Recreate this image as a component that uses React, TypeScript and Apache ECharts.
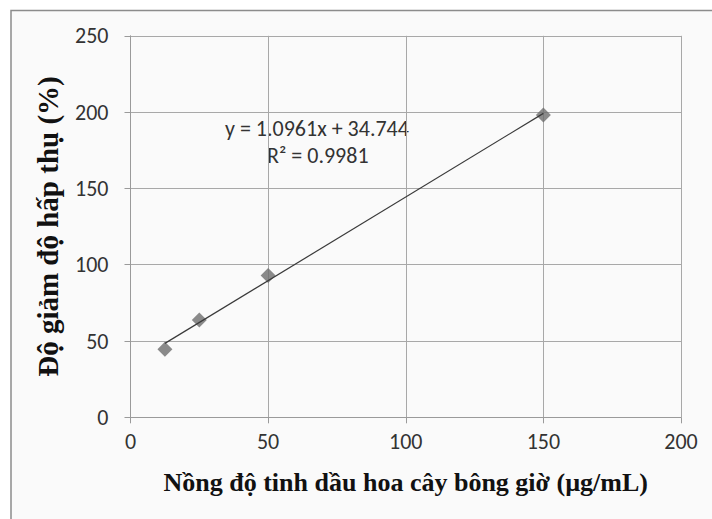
import React, { useEffect, useRef } from "react";
import * as echarts from "echarts";

const concentrations = [12.5, 25, 50, 150];
const inhibition = [44.6, 63.8, 93.0, 198.1];
const slope = 1.0961;
const intercept = 34.744;
const equationText = "y = 1.0961x + 34.744";
const r2Text = "R² = 0.9981";
const xTitle = "Nồng độ tinh dầu hoa cây bông giờ (µg/mL)";
const yTitle = "Độ giảm độ hấp thụ (%)";

export default function App() {
  const ref = useRef<HTMLDivElement>(null);
  useEffect(() => {
    if (!ref.current) return;
    const chart = echarts.init(ref.current, null, { renderer: "svg" });
    const pts = concentrations.map((x, i) => [x, inhibition[i]]);
    const xMin = concentrations[0];
    const xMax = concentrations[concentrations.length - 1];
    const trend = [
      [xMin, slope * xMin + intercept],
      [xMax, slope * xMax + intercept],
    ];
    const sans = "Carlito, 'Liberation Sans Narrow', 'Open Sans', sans-serif";
    const serif = "'Liberation Serif', 'DejaVu Serif', serif";
    chart.setOption({
      animation: false,
      backgroundColor: "#ffffff",
      graphic: [
        {
          type: "rect",
          z: -10,
          shape: { x: 11, y: 10.5, width: 720, height: 530 },
          style: { fill: "#fafafa", stroke: "#8c8c8c", lineWidth: 1.5 },
          silent: true,
        },
        {
          type: "text",
          left: 225,
          top: 117,
          style: { text: equationText, font: `22px ${sans}`, fill: "#333" },
        },
        {
          type: "text",
          left: 267,
          top: 144,
          style: { text: r2Text, font: `22px ${sans}`, fill: "#333" },
        },
      ],
      grid: { left: 130.5, right: 31, top: 35.8, bottom: 101.7 },
      xAxis: {
        type: "value",
        min: 0,
        max: 200,
        interval: 50,
        name: xTitle,
        nameLocation: "middle",
        nameGap: 52,
        nameTextStyle: { fontFamily: serif, fontWeight: "bold", fontSize: 26, color: "#111" },
        axisLine: { show: true, lineStyle: { color: "#9a9a9a" } },
        axisTick: { show: true, length: 6, lineStyle: { color: "#9a9a9a" } },
        axisLabel: { fontFamily: sans, fontSize: 22, color: "#333", margin: 13 },
        splitLine: { show: true, lineStyle: { color: "#a8a8a8" } },
      },
      yAxis: {
        type: "value",
        min: 0,
        max: 250,
        interval: 50,
        name: yTitle,
        nameLocation: "middle",
        nameGap: 68,
        nameTextStyle: { fontFamily: serif, fontWeight: "bold", fontSize: 29, color: "#111" },
        axisLine: { show: true, lineStyle: { color: "#9a9a9a" } },
        axisTick: { show: true, length: 6, lineStyle: { color: "#9a9a9a" } },
        axisLabel: { fontFamily: sans, fontSize: 22, color: "#333", margin: 22 },
        splitLine: { show: true, lineStyle: { color: "#a8a8a8" } },
      },
      series: [
        {
          type: "line",
          data: trend,
          symbol: "none",
          lineStyle: { color: "#3a3a3a", width: 1.2 },
          z: 3,
        },
        {
          type: "scatter",
          data: pts,
          symbol: "diamond",
          symbolSize: 15,
          itemStyle: { color: "#6e6e6e" },
          z: 2,
        },
      ],
    });
    return () => chart.dispose();
  }, []);
  return (
    <div
      ref={ref}
      style={{ position: "fixed", left: 0, top: 0, width: 712, height: 519 }}
    />
  );
}
